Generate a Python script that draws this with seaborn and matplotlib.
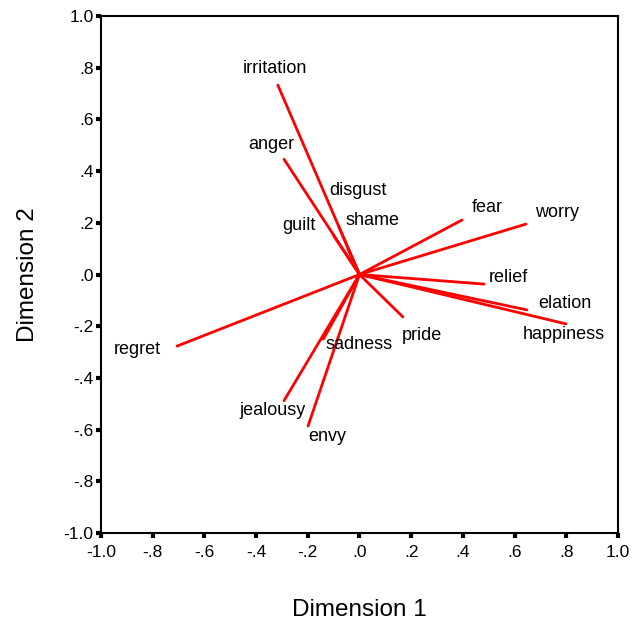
import numpy as np
import pandas as pd
import matplotlib
matplotlib.use("Agg")
import matplotlib.pyplot as plt
import seaborn as sns

# emotion coordinates
emotions = ["irritation", "anger", "disgust", "shame", "guilt", "fear", "worry",
            "relief", "elation", "happiness", "pride", "sadness", "regret",
            "jealousy", "envy"]
dim1 = [-0.316, -0.292, -0.082, -0.045, -0.100, 0.397, 0.644,
        0.482, 0.648, 0.799, 0.168, -0.140, -0.706,
        -0.292, -0.199]
dim2 = [0.733, 0.446, 0.190, 0.100, 0.150, 0.211, 0.195,
        -0.037, -0.137, -0.191, -0.164, -0.250, -0.277,
        -0.488, -0.586]

# label offsets in pixels (label centre relative to end point)
offsets = {"irritation": (-3, 17), "anger": (-13, 15), "disgust": (20, 35),
           "shame": (25, 28), "guilt": (-35, 10), "fear": (25, 12),
           "worry": (31, 12), "relief": (24, 7), "elation": (38, 6),
           "happiness": (-2, -11), "pride": (19, -19), "sadness": (36, -5),
           "regret": (-40, -3), "jealousy": (-11, -10), "envy": (19, -11)}

rows = []
for e, x, y in zip(emotions, dim1, dim2):
    rows.append({"emotion": e, "d1": 0.0, "d2": 0.0})
    rows.append({"emotion": e, "d1": x, "d2": y})
df = pd.DataFrame(rows)

sns.set_style("white")
plt.rcParams["font.family"] = ["Liberation Sans", "DejaVu Sans"]
plt.rcParams["text.color"] = "black"
plt.rcParams["axes.labelcolor"] = "black"
plt.rcParams["xtick.color"] = "black"
plt.rcParams["ytick.color"] = "black"

fig = plt.figure(figsize=(6.41, 6.21), dpi=100)
ax = fig.add_axes([0.1576, 0.1417, 0.8064, 0.8325])

sns.lineplot(data=df, x="d1", y="d2", units="emotion", estimator=None,
             sort=False, color="#ff0000", linewidth=2.0, ax=ax)

for e, x, y in zip(emotions, dim1, dim2):
    dx, dy = offsets[e]
    ax.annotate(e, (x, y), xytext=(dx, dy), textcoords="offset pixels",
                ha="center", va="center", fontsize=13, color="black")

ticks = np.round(np.arange(-1.0, 1.01, 0.2), 1)

def fmt(v):
    if abs(v) < 1e-9:
        return ".0"
    s = f"{v:.1f}"
    if abs(v) < 1:
        s = s.replace("0.", ".")
    return s

ax.set_xlim(-1, 1)
ax.set_ylim(-1, 1)
ax.set_xticks(ticks)
ax.set_yticks(ticks)
ax.set_xticklabels([fmt(t) for t in ticks])
ax.set_yticklabels([fmt(t) for t in ticks])
ax.tick_params(axis="both", direction="out", length=3.5, width=3, color="black",
               labelcolor="black", labelsize=12.5, bottom=True, left=True)
ax.tick_params(axis="x", pad=5)
ax.tick_params(axis="y", pad=2)
for sp in ax.spines.values():
    sp.set_linewidth(1.5)
    sp.set_color("black")

ax.set_xlabel("Dimension 1", fontsize=17.5, va="center", color="black")
ax.set_ylabel("Dimension 2", fontsize=17.5, va="center", color="black")
ax.xaxis.set_label_coords(0.5, -0.149)
ax.yaxis.set_label_coords(-0.141, 0.5)

fig.savefig("out.png", dpi=100)
